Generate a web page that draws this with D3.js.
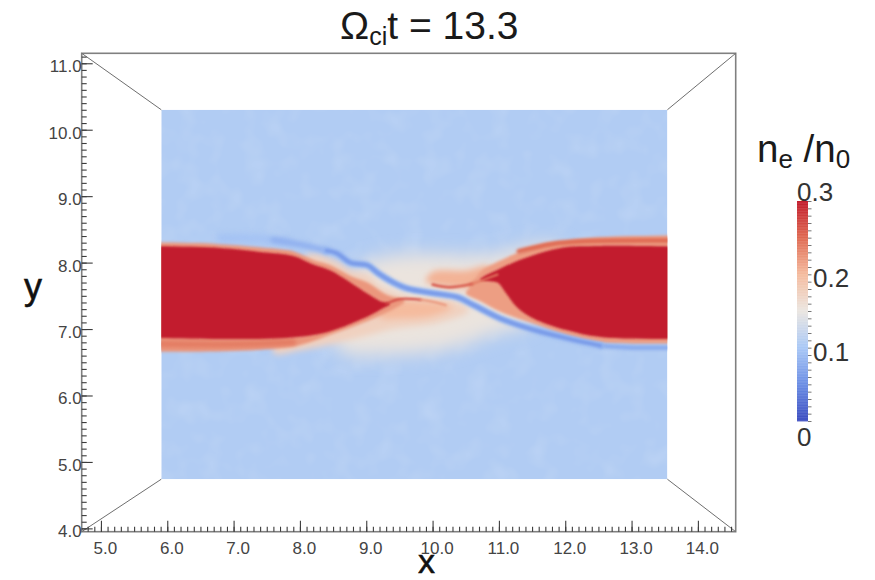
<!DOCTYPE html>
<html>
<head>
<meta charset="utf-8">
<script src="https://cdn.jsdelivr.net/npm/d3@7"></script>
<style>
  html, body { margin: 0; background: #fff; }
  svg { display: block; }
  text { font-family: "Liberation Sans", Arial, sans-serif; }
</style>
</head>
<body>
<div id="chart"></div>
<script>
// axis ticks
const xMajor = [5, 6, 7, 8, 9, 10, 11, 12, 13, 14];
const yMajor = [4, 5, 6, 7, 8, 9, 10, 11];
const xDomain = [4.71, 14.57];
const yDomain = [3.95, 11.15];
const planeX = [5.91, 13.54];
const planeY = [4.74, 10.30];

// colour bar
const barStops = [0, 0.05, 0.1, 0.15, 0.2, 0.25, 0.3];
const barColors = ['#3b4cc0', '#6b8de4', '#a9c8f6', '#ebe6e1', '#f5bb9e', '#df6a52', '#c21c2d'];
const barLabels = [0, 0.1, 0.2, 0.3];

// density regions, [x, y] in plot units
const backgroundValue = 0.106;
const paleHalo = [[8.9,7.95],[9.5,8.12],[10.2,8.12],[10.9,8.12],[11.6,8.28],[12.0,8.2],[11.5,7.1],[11.0,6.95],[10.3,6.72],[9.4,6.62],[8.6,6.68],[8.5,7.2]];
const leftCream = [[8.1,8.12],[8.56,8.02],[8.78,7.88],[9.02,7.82],[9.2,7.66],[9.45,7.55],[9.75,7.46],[10.3,7.42],[10.55,7.28],[10.1,7.1],[9.4,7.0],[9.0,6.9],[8.5,6.78],[8.0,6.68],[7.6,6.64],[7.8,7.2]];
const lowerPink = [[9.25,7.38],[9.8,7.42],[10.3,7.33],[10.0,7.2],[9.5,7.16],[9.2,7.18]];
const centerPink = [[10.0,7.86],[10.5,7.88],[10.85,7.94],[10.95,7.6],[10.62,7.60],[10.2,7.64],[9.9,7.72]];
const rightWedge = [[10.55,7.67],[10.98,7.84],[10.98,7.45],[10.7,7.5]];
const leftHalo = [[5.0,8.31],[5.5,8.31],[6.8,8.28],[7.4,8.23],[7.9,8.17],[8.2,8.04],[8.46,7.96],[8.76,7.80],[9.02,7.70],[9.3,7.52],[9.58,7.42],[9.35,7.27],[9.02,7.12],[8.56,6.95],[8.01,6.76],[7.4,6.69],[6.5,6.66],[5.5,6.66],[5.0,6.66]];
const leftRed = [[5.0,8.25],[5.5,8.25],[6.8,8.22],[7.4,8.16],[7.9,8.10],[8.2,7.97],[8.46,7.88],[8.76,7.70],[9.02,7.53],[9.21,7.42],[9.36,7.38],[9.21,7.29],[9.02,7.19],[8.56,7.00],[8.31,6.93],[7.7,6.86],[6.8,6.85],[5.5,6.87],[5.0,6.87]];
const rightHalo = [[10.6,7.66],[10.72,7.86],[11.02,8.03],[11.52,8.24],[12.03,8.33],[12.53,8.38],[13.9,8.41],[14.4,8.41],[14.4,6.78],[13.9,6.78],[12.53,6.80],[12.03,6.90],[11.52,7.08],[11.02,7.26],[10.72,7.42],[10.5,7.54]];
const rightRed = [[10.72,7.74],[11.02,7.91],[11.43,8.08],[11.93,8.22],[12.53,8.25],[13.9,8.24],[14.4,8.24],[14.4,6.85],[13.9,6.85],[12.53,6.88],[12.03,6.98],[11.52,7.16],[11.28,7.32],[11.1,7.55],[10.98,7.70]];
const lowerRim = [[5.7,6.78],[7.0,6.77],[7.9,6.80]];
const upperRim = [[11.3,8.17],[11.8,8.28],[12.3,8.32],[13.8,8.33]];
const tipLeft = [[9.3,7.38],[9.5,7.45],[9.82,7.44]];
const tipLeftFade = [[9.82,7.44],[10.0,7.41],[10.2,7.36]];
const tipRight = [[10.0,7.67],[10.25,7.63],[10.6,7.68]];
const tipRightFade = [[10.6,7.68],[10.98,7.82]];
const blueStripe = [[8.4,8.18],[8.56,8.14],[8.76,8.00],[9.02,7.96],[9.18,7.84],[9.41,7.70],[9.62,7.61],[10.01,7.54],[10.37,7.48],[10.62,7.36],[11.02,7.16],[11.52,6.99],[12.03,6.86],[12.53,6.75]];
const blueStripeFaint = [[6.8,8.37],[7.4,8.36],[7.8,8.31]];
const blueStripeLeft = [[7.6,8.34],[8.01,8.27],[8.4,8.18]];
const blueStripeRight = [[12.53,6.75],[13.03,6.72],[13.7,6.72]];

const width = 875, height = 580;
const x = d3.scaleLinear().domain(xDomain).range([81.7, 735.7]);
const y = d3.scaleLinear().domain(yDomain).range([531.7, 53.3]);
const color = d3.scaleLinear().domain(barStops).range(barColors);
const barY = d3.scaleLinear().domain([0, 0.3]).range([421, 201]);

const svg = d3.select('#chart').append('svg').attr('width', width).attr('height', height);
const defs = svg.append('defs');

[['b1', 0.9], ['b2', 1.6], ['b3', 3], ['b6', 9]].forEach(function (b) {
  defs.append('filter').attr('id', b[0])
    .attr('x', '-30%').attr('y', '-30%').attr('width', '160%').attr('height', '160%')
    .append('feGaussianBlur').attr('stdDeviation', b[1]);
});
defs.append('clipPath').attr('id', 'plane').append('rect')
  .attr('x', x(planeX[0])).attr('y', y(planeY[1]))
  .attr('width', x(planeX[1]) - x(planeX[0])).attr('height', y(planeY[0]) - y(planeY[1]));

// soft mottling of the density plane
const mottle = defs.append('filter').attr('id', 'mottle').attr('x', 0).attr('y', 0).attr('width', '100%').attr('height', '100%');
mottle.append('feTurbulence').attr('type', 'fractalNoise').attr('baseFrequency', 0.045).attr('numOctaves', 2).attr('seed', 4);
mottle.append('feColorMatrix').attr('values', '0 0 0 0 1  0 0 0 0 1  0 0 0 0 1  1.6 0 0 0 -0.7');

const area = d3.line().x(d => x(d[0])).y(d => y(d[1])).curve(d3.curveCatmullRomClosed.alpha(0.5));
const open = d3.line().x(d => x(d[0])).y(d => y(d[1])).curve(d3.curveCatmullRom.alpha(0.5));

const field = svg.append('g').attr('clip-path', 'url(#plane)');
field.append('rect')
  .attr('x', x(planeX[0])).attr('y', y(planeY[1]))
  .attr('width', x(planeX[1]) - x(planeX[0])).attr('height', y(planeY[0]) - y(planeY[1]))
  .attr('fill', color(backgroundValue));
field.append('rect')
  .attr('x', x(planeX[0])).attr('y', y(planeY[1]))
  .attr('width', x(planeX[1]) - x(planeX[0])).attr('height', y(planeY[0]) - y(planeY[1]))
  .attr('filter', 'url(#mottle)').attr('opacity', 0.16);

function region(points, value, blur) {
  field.append('path').attr('d', area(points))
    .attr('fill', color(value)).attr('filter', 'url(#' + blur + ')');
}
function streak(points, value, w, blur) {
  // a flat path has a zero height box, so blur in user space
  field.append('path').attr('d', open(points)).attr('fill', 'none')
    .attr('stroke', color(value)).attr('stroke-width', w).attr('stroke-linecap', 'round')
    .style('filter', 'blur(' + blur + 'px)');
}

region(paleHalo, 0.152, 'b6');
region(leftCream, 0.175, 'b3');
region(lowerPink, 0.2, 'b3');
region(centerPink, 0.205, 'b3');
region(rightWedge, 0.22, 'b2');
region(leftHalo, 0.222, 'b2');
region(rightHalo, 0.218, 'b2');
streak(upperRim, 0.25, 4.5, 1.8);
streak(lowerRim, 0.24, 6, 2);
region(leftRed, 0.3, 'b1');
region(rightRed, 0.3, 'b1');
streak(tipLeft, 0.275, 2, 0.9);
streak(tipLeftFade, 0.225, 2, 1.2);
streak(tipRight, 0.265, 2.4, 1);
streak(tipRightFade, 0.24, 2, 1);
streak(blueStripeFaint, 0.094, 7, 3);
streak(blueStripeLeft, 0.08, 6, 2.2);
streak(blueStripeRight, 0.075, 4.5, 1.6);
streak(blueStripe, 0.085, 7, 1.4);
streak(blueStripe, 0.062, 3.5, 1);

// box of the 3d view
const frame = svg.append('g').attr('fill', 'none').attr('stroke', '#6e6e6e');
frame.append('rect')
  .attr('x', x(xDomain[0])).attr('y', y(yDomain[1]))
  .attr('width', x(xDomain[1]) - x(xDomain[0])).attr('height', y(yDomain[0]) - y(yDomain[1]))
  .attr('stroke', '#808080').attr('stroke-width', 1.6);
[[xDomain[0], yDomain[1], planeX[0], planeY[1]], [xDomain[1], yDomain[1], planeX[1], planeY[1]],
 [xDomain[0], yDomain[0], planeX[0], planeY[0]], [xDomain[1], yDomain[0], planeX[1], planeY[0]]].forEach(function (c) {
  frame.append('line').attr('x1', x(c[0])).attr('y1', y(c[1])).attr('x2', x(c[2])).attr('y2', y(c[3])).attr('stroke-width', 1);
});

// axes, ticks point into the box
const xMinor = d3.range(48, 146).map(d => d / 10);
const yMinor = d3.range(40, 112).map(d => d / 10);

const gx = svg.append('g').attr('transform', 'translate(0,' + y(yDomain[0]) + ')');
gx.append('g').call(d3.axisBottom(x).tickValues(xMinor).tickSize(-5).tickFormat(''));
gx.append('g').call(d3.axisBottom(x).tickValues(xMajor).tickSize(-11).tickPadding(6).tickFormat(d3.format('.1f')));
const gy = svg.append('g').attr('transform', 'translate(' + x(xDomain[0]) + ',0)');
gy.append('g').call(d3.axisLeft(y).tickValues(yMinor).tickSize(-5).tickFormat(''));
gy.append('g').call(d3.axisLeft(y).tickValues(yMajor).tickSize(-11).tickPadding(0).tickFormat(d3.format('.1f')));
svg.selectAll('.domain').remove();
svg.selectAll('.tick line').attr('stroke', '#3c3c3c').attr('stroke-width', 1.1);
gx.selectAll('text').attr('font-size', 17).attr('fill', '#444').attr('dx', 4).attr('dy', '0.95em');
gy.selectAll('text').attr('font-size', 17).attr('fill', '#444').attr('dy', '0.5em');

// colour bar
const bar = svg.append('g');
bar.selectAll('rect').data(d3.range(0, 0.3, 0.001)).enter().append('rect')
  .attr('x', 797).attr('width', 11)
  .attr('y', d => barY(d + 0.001)).attr('height', d => barY(d) - barY(d + 0.001) + 0.4)
  .attr('fill', d => color(d));
const gb = svg.append('g').attr('transform', 'translate(808,0)');
gb.call(d3.axisRight(barY).tickValues(d3.range(0, 31).map(d => d / 100)).tickSize(3.5).tickFormat(''));
gb.selectAll('.domain').remove();
gb.selectAll('.tick line').attr('stroke', '#777').attr('stroke-width', 1);
bar.selectAll('text').data(barLabels).enter().append('text')
  .attr('x', d => (d === 0 || d === 0.3 ? 797 : 813))
  .attr('y', d => barY(d) + (d === 0 ? 25 : d === 0.3 ? 0 : 13))
  .attr('font-size', 26).attr('fill', '#333')
  .text(d => (d === 0 ? '0' : d3.format('.1f')(d)));

// titles
const title = svg.append('text').attr('x', 340).attr('y', 39).attr('font-size', 39).attr('fill', '#1a1a1a');
title.append('tspan').text('Ω');
title.append('tspan').attr('font-size', 25).attr('dy', 6).text('ci');
title.append('tspan').attr('dy', -6).text('t = 13.3');

svg.append('text').attr('x', 24).attr('y', 299).attr('font-size', 36).attr('fill', '#111').attr('stroke', '#111').attr('stroke-width', 0.5).text('y');
svg.append('text').attr('x', 418).attr('y', 573).attr('font-size', 34).attr('fill', '#111').attr('stroke', '#111').attr('stroke-width', 0.5).text('x');

const label = svg.append('text').attr('x', 757).attr('y', 162).attr('font-size', 38.5).attr('fill', '#1a1a1a');
label.append('tspan').text('n');
label.append('tspan').attr('font-size', 26).attr('dy', 6).text('e');
label.append('tspan').attr('dy', -6).text(' /n');
label.append('tspan').attr('font-size', 26).attr('dy', 6).text('0');
</script>
</body>
</html>
